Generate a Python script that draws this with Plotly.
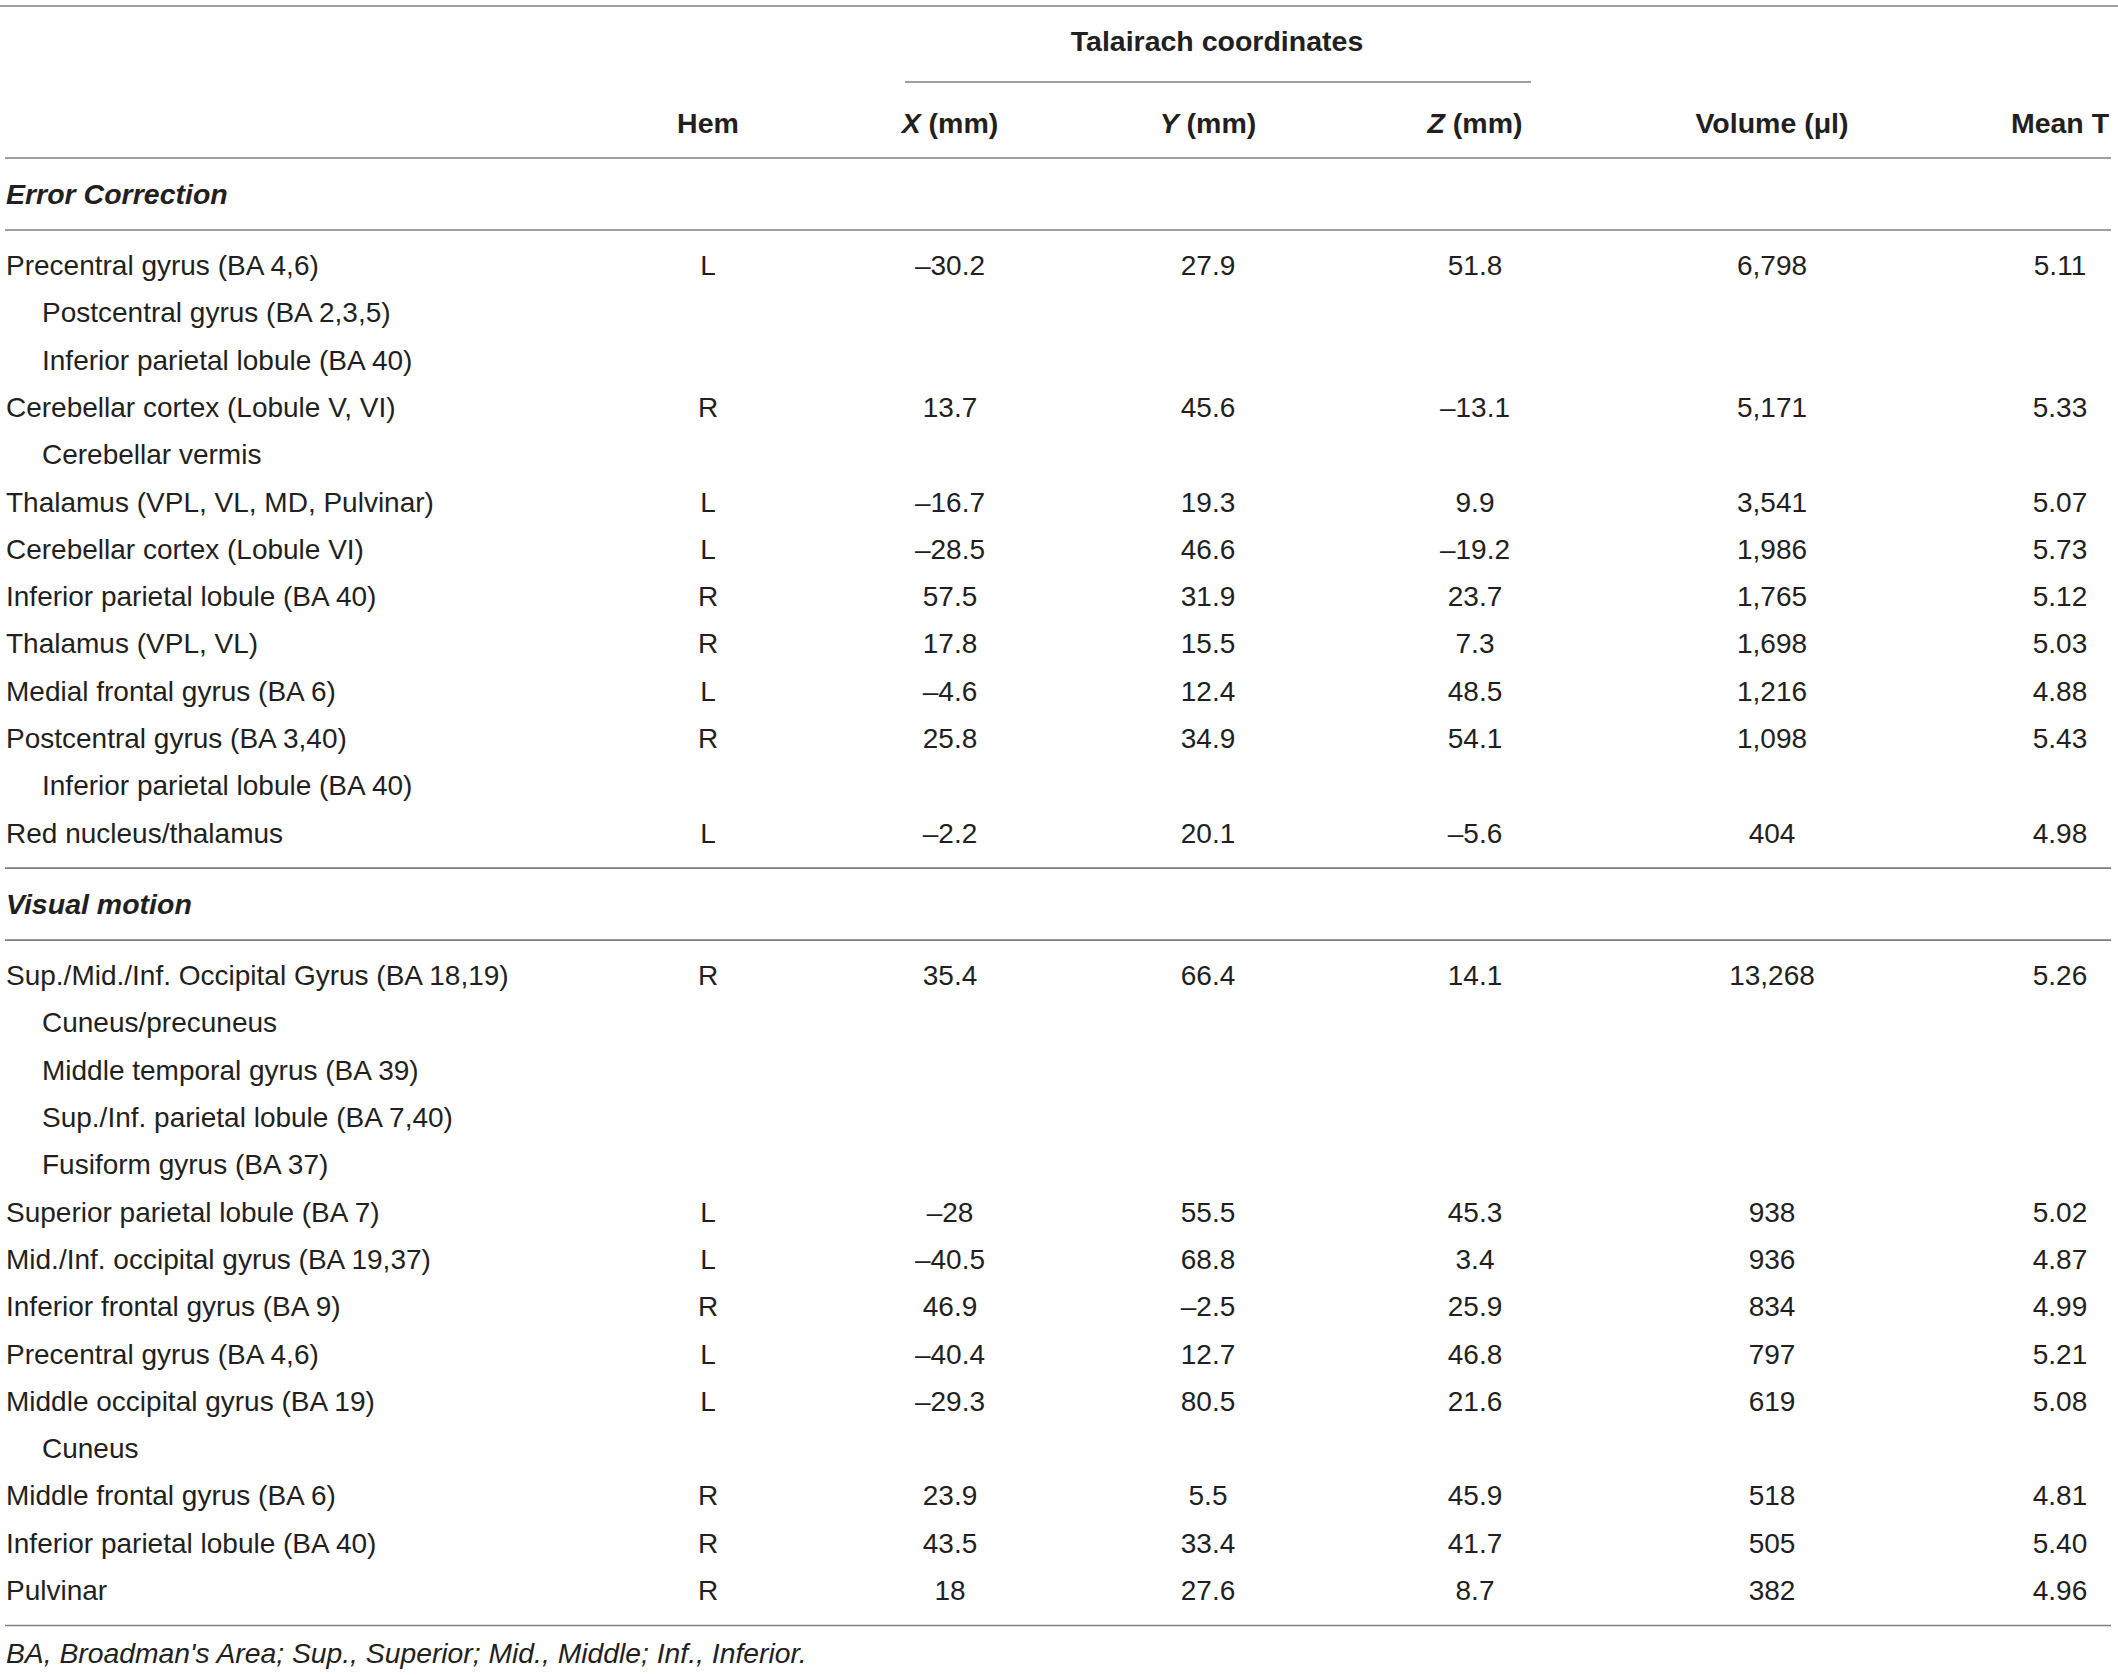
import plotly.graph_objects as go

W, H = 2118, 1675
FONT = "Liberation Sans, Arial, sans-serif"
INK = "#231f20"
RULE = "#7f7f7f"

# ---- data ----
sections = ["Error Correction", "Visual motion"]

ec_region = ["Precentral gyrus (BA 4,6)", "Postcentral gyrus (BA 2,3,5)",
             "Inferior parietal lobule (BA 40)", "Cerebellar cortex (Lobule V, VI)",
             "Cerebellar vermis", "Thalamus (VPL, VL, MD, Pulvinar)",
             "Cerebellar cortex (Lobule VI)", "Inferior parietal lobule (BA 40)",
             "Thalamus (VPL, VL)", "Medial frontal gyrus (BA 6)",
             "Postcentral gyrus (BA 3,40)", "Inferior parietal lobule (BA 40)",
             "Red nucleus/thalamus"]
ec_sub = [0, 1, 1, 0, 1, 0, 0, 0, 0, 0, 0, 1, 0]
ec_hem = ["L", "", "", "R", "", "L", "L", "R", "R", "L", "R", "", "L"]
ec_x = [-30.2, None, None, 13.7, None, -16.7, -28.5, 57.5, 17.8, -4.6, 25.8, None, -2.2]
ec_y = [27.9, None, None, 45.6, None, 19.3, 46.6, 31.9, 15.5, 12.4, 34.9, None, 20.1]
ec_z = [51.8, None, None, -13.1, None, 9.9, -19.2, 23.7, 7.3, 48.5, 54.1, None, -5.6]
ec_vol = [6798, None, None, 5171, None, 3541, 1986, 1765, 1698, 1216, 1098, None, 404]
ec_t = [5.11, None, None, 5.33, None, 5.07, 5.73, 5.12, 5.03, 4.88, 5.43, None, 4.98]

vm_region = ["Sup./Mid./Inf. Occipital Gyrus (BA 18,19)", "Cuneus/precuneus",
             "Middle temporal gyrus (BA 39)", "Sup./Inf. parietal lobule (BA 7,40)",
             "Fusiform gyrus (BA 37)", "Superior parietal lobule (BA 7)",
             "Mid./Inf. occipital gyrus (BA 19,37)", "Inferior frontal gyrus (BA 9)",
             "Precentral gyrus (BA 4,6)", "Middle occipital gyrus (BA 19)", "Cuneus",
             "Middle frontal gyrus (BA 6)", "Inferior parietal lobule (BA 40)", "Pulvinar"]
vm_sub = [0, 1, 1, 1, 1, 0, 0, 0, 0, 0, 1, 0, 0, 0]
vm_hem = ["R", "", "", "", "", "L", "L", "R", "L", "L", "", "R", "R", "R"]
vm_x = [35.4, None, None, None, None, -28, -40.5, 46.9, -40.4, -29.3, None, 23.9, 43.5, 18]
vm_y = [66.4, None, None, None, None, 55.5, 68.8, -2.5, 12.7, 80.5, None, 5.5, 33.4, 27.6]
vm_z = [14.1, None, None, None, None, 45.3, 3.4, 25.9, 46.8, 21.6, None, 45.9, 41.7, 8.7]
vm_vol = [13268, None, None, None, None, 938, 936, 834, 797, 619, None, 518, 505, 382]
vm_t = [5.26, None, None, None, None, 5.02, 4.87, 4.99, 5.21, 5.08, None, 4.81, 5.40, 4.96]

headers = ["Hem", "<i>X</i> (mm)", "<i>Y</i> (mm)", "<i>Z</i> (mm)", "Volume (μl)", "Mean T"]
span_label = "Talairach coordinates"
footnote = "BA, Broadman's Area; Sup., Superior; Mid., Middle; Inf., Inferior."

# ---- layout constants (pixels) ----
col_x = [708, 950, 1208, 1475, 1772, 2060]
left, indent = 6, 36
row_h = 47.3
fs = 28    # body text
fb = 28.5  # bold headings
dy = 3     # nudge text down so it sits like the original


def coord(v):
    return "" if v is None else f"{v:g}".replace("-", "\u2013")


def vol(v):
    return "" if v is None else f"{v:,}"


def tval(v):
    return "" if v is None else f"{v:.2f}"


fig = go.Figure()
rules = []  # (y, x0, x1)


def text(xs, ys, labels, pos="middle center", size=fs, color=INK):
    fig.add_trace(go.Scatter(x=xs, y=[v + dy for v in ys], text=labels, mode="text",
                             cliponaxis=False, textposition=pos, hoverinfo="skip",
                             textfont=dict(family=FONT, size=size, color=color)))


# header
rules.append((6, 0, W))
text([1217], [41], ["<b>" + span_label + "</b>"], size=fb)
rules.append((82, 905, 1531))
text(col_x, [123] * 6, ["<b>" + h + "</b>" for h in headers], size=fb)
y = 158
rules.append((y, 5, 2111))

blocks = [
    (ec_region, ec_sub, ec_hem, ec_x, ec_y, ec_z, ec_vol, ec_t),
    (vm_region, vm_sub, vm_hem, vm_x, vm_y, vm_z, vm_vol, vm_t),
]
for name, blk in zip(sections, blocks):
    reg, sub, hem, xs, ys, zs, vols, ts = blk
    text([left], [y + 36], ["<b><i>" + name + "</i></b>"], pos="middle right", size=fb)
    y += 72
    rules.append((y, 5, 2111))
    row_y = [y + 35 + i * row_h for i in range(len(reg))]
    text([left + indent * s for s in sub], row_y, reg, pos="middle right")
    cols = [hem, [coord(v) for v in xs], [coord(v) for v in ys], [coord(v) for v in zs],
            [vol(v) for v in vols], [tval(v) for v in ts]]
    for cx, vals in zip(col_x, cols):
        text([cx] * len(vals), row_y, vals)
    y = row_y[-1] + 35.5
    rules.append((y, 5, 2111))

text([left], [y + 27], ["<i>" + footnote + "</i>"], pos="middle right", size=28.3)

for ry, x0, x1 in rules:
    fig.add_trace(go.Scatter(x=[x0, x1], y=[ry, ry], mode="lines", hoverinfo="skip",
                             cliponaxis=False, line=dict(color=RULE, width=1.6)))

fig.update_layout(
    width=W, height=H, margin=dict(l=0, r=0, t=0, b=0),
    paper_bgcolor="white", plot_bgcolor="white", showlegend=False,
    xaxis=dict(range=[0, W], visible=False, fixedrange=True),
    yaxis=dict(range=[H, 0], visible=False, fixedrange=True),
)
fig.write_html("out.html", config={"displayModeBar": False},
               post_script="document.body.style.margin='0';")
